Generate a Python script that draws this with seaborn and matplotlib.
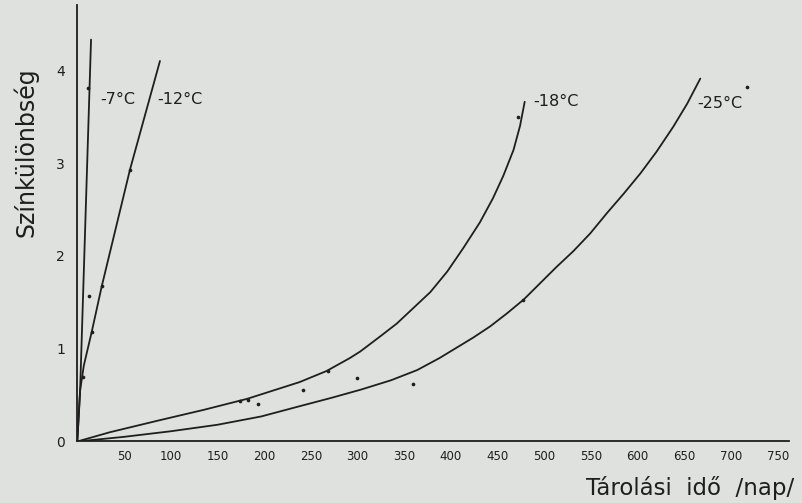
import numpy as np
import pandas as pd
import matplotlib
matplotlib.use("Agg")
import matplotlib.pyplot as plt
import seaborn as sns

# ---- data ----
series_names = ["-7°C", "-12°C", "-18°C", "-25°C"]

m7_days = [0, 3, 14.7]
m7_diff = [0, 0.55, 4.33]

m12_days = [0, 3, 7, 15.4, 26.1, 56.4, 88.5]
m12_diff = [0, 0.55, 0.82, 1.18, 1.67, 2.93, 4.10]

m18_days = [0, 35, 88.5, 135, 182, 238, 267, 292, 303, 324, 342, 360, 378,
            396, 413, 431, 445, 456, 467, 474, 479]
m18_diff = [0, 0.10, 0.23, 0.34, 0.46, 0.64, 0.76, 0.90, 0.97, 1.13, 1.27,
            1.44, 1.61, 1.83, 2.08, 2.36, 2.62, 2.86, 3.14, 3.40, 3.66]

m25_days = [0, 50, 100, 150, 197, 238, 272, 304, 336, 364, 388, 406, 424,
            442, 460, 478, 495, 513, 531, 549, 567, 585, 603, 620, 638, 653, 667]
m25_diff = [0, 0.05, 0.11, 0.18, 0.27, 0.38, 0.47, 0.56, 0.66, 0.77, 0.90,
            1.01, 1.12, 1.24, 1.38, 1.53, 1.70, 1.88, 2.05, 2.24, 2.46, 2.67,
            2.89, 3.12, 3.39, 3.64, 3.91]

# measured points (small dots)
pt_days = [11.8, 12.9, 6.1, 15.4, 26.1, 56.4, 174.2, 182.8, 193.4, 241.7,
           268.4, 299.5, 359.5, 477.3, 471.9, 717.0]
pt_diff = [3.81, 1.57, 0.69, 1.18, 1.67, 2.93, 0.44, 0.45, 0.40, 0.55,
           0.76, 0.68, 0.62, 1.52, 3.50, 3.82]

# curve labels: anchor position in data units
label_days = [24.4, 85.4, 488.0, 663.4]
label_diff = [3.68, 3.68, 3.66, 3.64]

x_ticks = [50, 100, 150, 200, 250, 300, 350, 400, 450, 500, 550, 600, 650, 700, 750]
y_ticks = [0, 1, 2, 3, 4]

x_label = "Tárolási  idő  /nap/"
y_label = "Színkülönbség"

# ---- build long table ----
frames = []
for name, d, v in zip(series_names,
                      [m7_days, m12_days, m18_days, m25_days],
                      [m7_diff, m12_diff, m18_diff, m25_diff]):
    frames.append(pd.DataFrame({"days": d, "diff": v, "series": name}))
df = pd.concat(frames, ignore_index=True)
pts = pd.DataFrame({"days": pt_days, "diff": pt_diff})

bg = "#dfe1de"
ink = "#1e1e1e"

sns.set_theme(style="white")
plt.rcParams["font.family"] = ["DejaVu Sans"]

fig = plt.figure(figsize=(8.02, 5.03), dpi=100, facecolor=bg)
ax = fig.add_axes([0.0964, 0.1223, 0.8874, 0.8672])
ax.set_facecolor(bg)

sns.lineplot(data=df, x="days", y="diff", hue="series", units="series",
             estimator=None, sort=False, palette={n: ink for n in series_names},
             linewidth=1.3, legend=False, ax=ax)
sns.scatterplot(data=pts, x="days", y="diff", color=ink, s=7, linewidth=0, ax=ax)

for name, lx, ly in zip(series_names, label_days, label_diff):
    ax.text(lx, ly, name, fontsize=11.5, color=ink, va="center", ha="left")

ax.set_xlim(0, 762)
ax.set_ylim(0, 4.7)
ax.set_xticks(x_ticks)
ax.set_yticks(y_ticks)
ax.tick_params(axis="x", direction="in", length=5, width=1.1, colors=ink,
               labelsize=8.5, pad=6)
ax.tick_params(axis="y", direction="out", length=5, width=1.1, colors=ink,
               labelsize=10, pad=4)
for s in ["top", "right"]:
    ax.spines[s].set_visible(False)
for s in ["left", "bottom"]:
    ax.spines[s].set_color(ink)
    ax.spines[s].set_linewidth(1.3)

ax.set_xlabel("")
ax.set_ylabel("")
fig.text(0.99, 0.03, x_label, ha="right", va="center", fontsize=16.5, color=ink)
fig.text(0.032, 0.698, y_label, ha="center", va="center", rotation=90,
         fontsize=17, color=ink)

fig.savefig("out.png", dpi=100, facecolor=bg)
